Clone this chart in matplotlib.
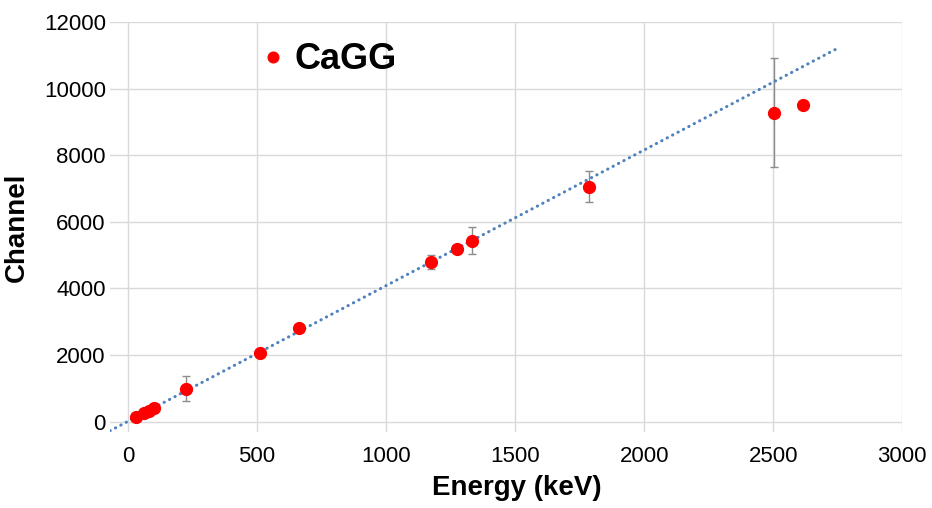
import numpy as np
import matplotlib.pyplot as plt

plt.rcParams['font.family'] = ['Liberation Sans', 'DejaVu Sans']

energy = [32, 60, 81, 100, 223, 511, 662, 1173, 1275, 1332, 1785, 2505, 2614]
channel = [140, 250, 330, 410, 990, 2070, 2820, 4800, 5190, 5430, 7050, 9270, 9510]
channel_err = [0, 0, 0, 0, 375, 0, 0, 210, 0, 400, 470, 1640, 0]

# Linear trendline as drawn in the reference.
trend_slope = 4.07
trend_intercept = 15
trend_range = [-70, 2750]

x_ticks = [0, 500, 1000, 1500, 2000, 2500, 3000]
y_ticks = [0, 2000, 4000, 6000, 8000, 10000, 12000]

fig = plt.figure(figsize=(9.32, 5.08), dpi=100)
ax = fig.add_axes([0.118, 0.150, 0.850, 0.807])

# Trendline
tx = np.array(trend_range)
ax.plot(tx, trend_slope * tx + trend_intercept, color='#4f81bd', lw=2.2,
        ls=(0, (0.1, 1.9)), dash_capstyle='round', zorder=3)

# Error bars only where present
err = np.array(channel_err, dtype=float)
has_err = err > 0
ax.errorbar(np.array(energy)[has_err], np.array(channel)[has_err],
            yerr=err[has_err], fmt='none', ecolor='#8c8c8c', elinewidth=1.0,
            capsize=3, capthick=1.0, zorder=2)

ax.plot(energy, channel, 'o', color='#ff0000', ms=8.5, mec='#ff0000',
        label='CaGG', zorder=4)

ax.set_xlim(-70, 3000)
ax.set_ylim(-300, 12000)
ax.set_xticks(x_ticks)
ax.set_yticks(y_ticks)
ax.tick_params(axis='y', length=0, labelsize=16, pad=3)
ax.tick_params(axis='x', length=0, labelsize=16, pad=10)
ax.grid(True, color='#d9d9d9', lw=1.0)
ax.set_axisbelow(True)
for s in ax.spines.values():
    s.set_visible(False)

ax.set_xlabel('Energy (keV)', fontsize=20, fontweight='bold')
ax.set_ylabel('Channel', fontsize=20, fontweight='bold')
ax.xaxis.set_label_coords(0.513, -0.105)
ax.yaxis.set_label_coords(-0.101, 0.5)

leg = ax.legend(loc='center left', bbox_to_anchor=(0.165, 0.907), frameon=False,
                fontsize=26, handletextpad=0.1, handlelength=1.0,
                markerscale=0.9, borderaxespad=0)
for t in leg.get_texts():
    t.set_fontweight('bold')

plt.savefig('out.png', dpi=100)
